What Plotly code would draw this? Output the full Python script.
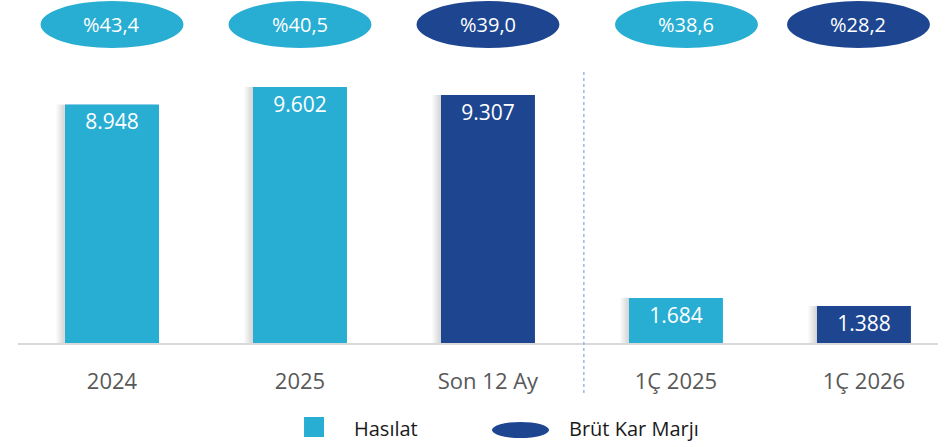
import plotly.graph_objects as go

# ---- data ----
categories = ["2024", "2025", "Son 12 Ay", "1Ç 2025", "1Ç 2026"]
hasilat = [8948, 9602, 9307, 1684, 1388]
brut_kar_marji = [43.4, 40.5, 39.0, 38.6, 28.2]
is_current = [False, False, True, False, True]

LIGHT = "#28ADD3"
DARK = "#1D4590"
colors = [DARK if c else LIGHT for c in is_current]
ellipse_shift = [0.0, 0.0, 0.0, 0.056, -0.029]

xpos = list(range(len(categories)))
fig = go.Figure()

# soft shadow layers
for shift in [0.045, 0.035, 0.025, 0.015]:
    fig.add_trace(go.Bar(
        x=xpos, y=hasilat, width=0.5, offset=-0.25 - shift,
        marker=dict(color="rgba(0,0,0,0.035)", line=dict(width=0)),
        hoverinfo="skip", showlegend=False))

fig.add_trace(go.Bar(
    x=xpos, y=hasilat, width=0.5, offset=-0.25,
    marker=dict(color=colors, line=dict(width=0)),
    texttemplate="%{y:,}", textposition="inside", insidetextanchor="end",
    constraintext="none",
    textfont=dict(color="white", size=21, family="Open Sans"),
    showlegend=False, name="Hasılat"))

shapes = []
annotations = []
for i, (m, c) in enumerate(zip(brut_kar_marji, colors)):
    cx = xpos[i] + ellipse_shift[i]
    shapes.append(dict(type="circle", xref="x", yref="paper",
                       x0=cx - 0.38, x1=cx + 0.38, y0=0.860, y1=0.997,
                       fillcolor=c, line=dict(width=0), layer="above"))
    annotations.append(dict(x=cx, y=0.9286, xref="x", yref="paper",
                            xanchor="center", yanchor="middle",
                            text="%" + f"{m:.1f}".replace(".", ","),
                            showarrow=False,
                            font=dict(color="white", size=20, family="Open Sans")))

# separator dotted line
shapes.append(dict(type="line", xref="x", yref="paper", x0=2.51, x1=2.51,
                   y0=-0.146, y1=0.79,
                   line=dict(color="#9DB5E6", width=1.5, dash="dot")))

# legend (manual)
shapes.append(dict(type="rect", xref="paper", yref="paper",
                   x0=0.3109, x1=0.3326, y0=-0.2741, y1=-0.2157,
                   fillcolor=LIGHT, line=dict(width=0)))
shapes.append(dict(type="circle", xref="paper", yref="paper",
                   x0=0.5152, x1=0.5772, y0=-0.2770, y1=-0.2303,
                   fillcolor=DARK, line=dict(width=0)))
annotations.append(dict(x=0.3630, y=-0.248, xref="paper", yref="paper",
                        xanchor="left", yanchor="middle", text="Hasılat", showarrow=False,
                        font=dict(color="#1a1a1a", size=20, family="Open Sans")))
annotations.append(dict(x=0.5970, y=-0.248, xref="paper", yref="paper",
                        xanchor="left", yanchor="middle", text="Brüt Kar Marjı", showarrow=False,
                        font=dict(color="#1a1a1a", size=20, family="Open Sans")))

fig.update_layout(
    width=951, height=447,
    margin=dict(l=18, r=13, t=0, b=104),
    paper_bgcolor="white", plot_bgcolor="white",
    barmode="overlay",
    separators=",.",
    shapes=shapes, annotations=annotations,
    font=dict(family="Open Sans"),
    xaxis=dict(range=[-0.5, 4.394], tickvals=xpos, ticktext=categories,
               showgrid=False, zeroline=False, showline=True,
               linecolor="#D9D9D9", linewidth=2, ticks="",
               ticklabelstandoff=18,
               tickfont=dict(size=22, color="#595959", family="Open Sans")),
    yaxis=dict(range=[0, 12866], visible=False, showgrid=False, zeroline=False),
)

fig.write_html("out.html",
               config={"displayModeBar": False},
               post_script="document.body.style.margin='0';document.body.style.overflow='hidden';")
